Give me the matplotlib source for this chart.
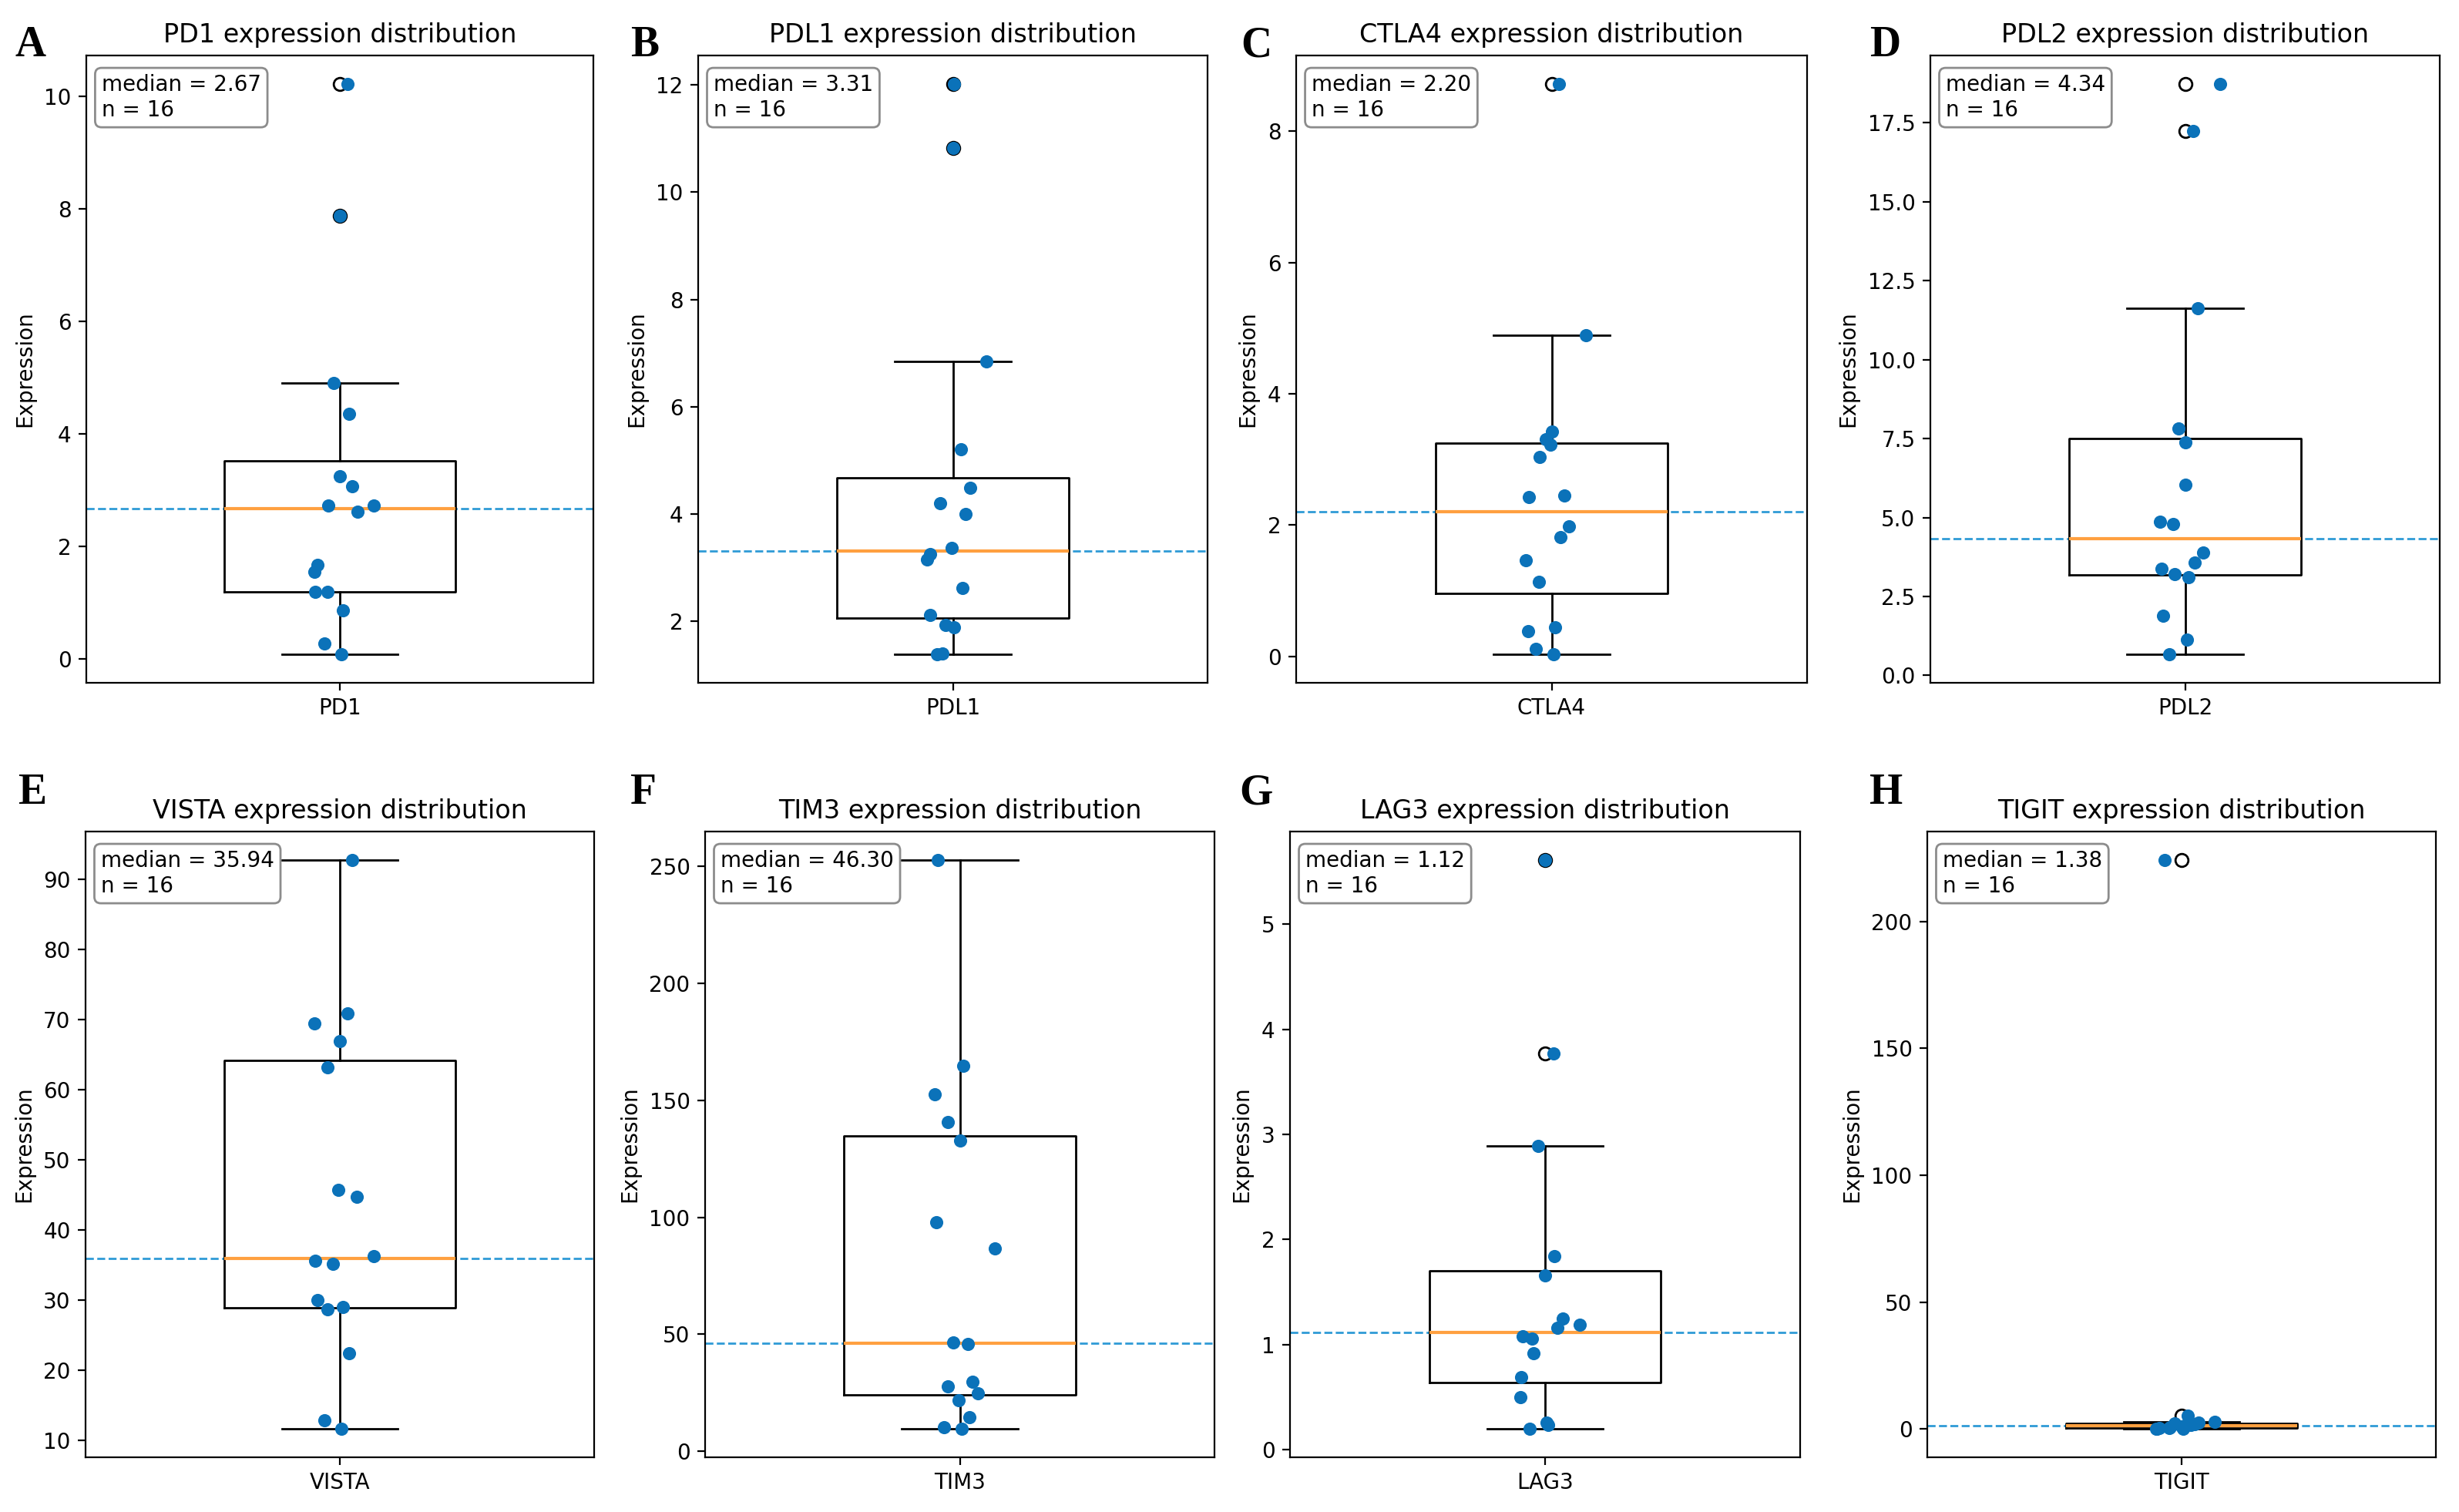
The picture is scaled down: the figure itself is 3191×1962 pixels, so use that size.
import numpy as np
import matplotlib
matplotlib.use("Agg")
import matplotlib.pyplot as plt

genes = ["PD1", "PDL1", "CTLA4", "PDL2", "VISTA", "TIM3", "LAG3", "TIGIT"]
letters = ["A", "B", "C", "D", "E", "F", "G", "H"]

pd1 = [10.22, 7.88, 4.91, 4.35, 3.25, 3.07, 2.72, 2.62, 2.73, 1.67, 1.55, 1.19, 1.19, 0.86, 0.27, 0.08]
pd1_jit = [0.017, 0.0, -0.014, 0.020, 0.0, 0.027, -0.025, 0.038, 0.074, -0.049, -0.055, -0.053, -0.026, 0.007, -0.034, 0.004]

pdl1 = [12.02, 10.82, 6.85, 5.20, 4.49, 4.20, 3.99, 3.37, 3.25, 3.15, 2.61, 2.11, 1.92, 1.88, 1.40, 1.38]
pdl1_jit = [0.002, 0.0, 0.072, 0.017, 0.038, -0.027, 0.027, -0.002, -0.049, -0.055, 0.020, -0.049, -0.015, 0.002, -0.023, -0.034]

ctla4 = [8.72, 4.89, 3.42, 3.31, 3.23, 3.04, 2.42, 2.45, 1.98, 1.82, 1.46, 1.13, 0.44, 0.38, 0.11, 0.03]
ctla4_jit = [0.015, 0.074, 0.0, -0.013, -0.002, -0.025, -0.049, 0.028, 0.038, 0.019, -0.055, -0.027, 0.007, -0.051, -0.034, 0.004]

pdl2 = [18.73, 17.24, 11.64, 7.83, 7.39, 6.03, 4.86, 4.80, 3.88, 3.57, 3.37, 3.21, 3.10, 1.89, 1.13, 0.67]
pdl2_jit = [0.075, 0.018, 0.028, -0.014, 0.0, 0.0, -0.054, -0.025, 0.039, 0.021, -0.051, -0.023, 0.007, -0.048, 0.004, -0.034]

vista = [92.8, 70.85, 69.5, 66.97, 63.2, 45.7, 44.7, 36.26, 35.62, 35.2, 30.0, 29.0, 28.7, 22.4, 12.8, 11.6]
vista_jit = [0.027, 0.017, -0.055, 0.0, -0.027, -0.003, 0.037, 0.074, -0.053, -0.015, -0.049, 0.007, -0.026, 0.020, -0.034, 0.003]

tim3 = [252.7, 164.9, 152.4, 140.8, 132.7, 98.0, 86.7, 46.6, 46.0, 29.6, 27.6, 24.9, 21.8, 14.7, 10.2, 9.6]
tim3_jit = [-0.048, 0.007, -0.054, -0.025, 0.0, -0.051, 0.075, -0.014, 0.017, 0.028, -0.025, 0.039, -0.002, 0.021, -0.034, 0.004]

lag3 = [5.61, 3.77, 2.89, 1.84, 1.66, 1.25, 1.19, 1.16, 1.08, 1.06, 0.92, 0.69, 0.50, 0.26, 0.24, 0.20]
lag3_jit = [0.0, 0.019, -0.015, 0.020, 0.0, 0.038, 0.074, 0.027, -0.049, -0.028, -0.025, -0.051, -0.053, 0.004, 0.006, -0.034]

tigit = [224.3, 5.1, 2.8, 2.4, 2.1, 1.9, 1.7, 1.56, 1.2, 0.9, 0.6, 0.4, 0.3, 0.2, 0.1, 0.05]
tigit_jit = [-0.036, 0.013, 0.072, 0.037, -0.015, 0.028, 0.020, 0.017, 0.007, 0.0, -0.025, -0.027, -0.049, -0.055, 0.004, -0.053]

values = [pd1, pdl1, ctla4, pdl2, vista, tim3, lag3, tigit]
jitters = [pd1_jit, pdl1_jit, ctla4_jit, pdl2_jit, vista_jit, tim3_jit, lag3_jit, tigit_jit]

W, H = 3191, 1962
DPI = 200
fig = plt.figure(figsize=(W / DPI, H / DPI), dpi=DPI)

# axes boxes in pixels: left, right, top, bottom
boxes = [
    (112, 770, 72, 886), (906, 1567, 72, 886), (1682, 2345, 72, 886), (2505, 3166, 72, 886),
    (111, 771, 1079, 1891), (915, 1576, 1079, 1891), (1674, 2336, 1079, 1891), (2501, 3161, 1079, 1891),
]
letter_x = [19, 818, 1610, 2426, 23, 818, 1608, 2426]

point_color = "#0b72b9"
dash_color = "#2f9bd6"
median_color = "#ffa040"

for i, (gene, vals, jit) in enumerate(zip(genes, values, jitters)):
    l, r, t, b = boxes[i]
    ax = fig.add_axes([l / W, 1 - b / H, (r - l) / W, (b - t) / H])
    vals = np.array(vals)
    med = np.median(vals)

    ax.axhline(med, color=dash_color, linestyle="--", linewidth=1.0)
    ax.boxplot([vals], widths=0.5,
               medianprops=dict(color=median_color, linewidth=1.5),
               flierprops=dict(marker="o", markerfacecolor="none", markeredgecolor="black", markersize=6))
    ax.scatter(1 + np.array(jit), vals, s=38, color=point_color, linewidths=0, zorder=3)

    ax.set_xlim(0.45, 1.55)
    ax.set_xticks([1])
    ax.set_xticklabels([gene])
    ax.set_ylabel("Expression")
    ax.set_title(f"{gene} expression distribution")
    ax.text(0.03, 0.97, f"median = {med:.2f}\nn = {len(vals)}", transform=ax.transAxes,
            va="top", ha="left", fontsize=10,
            bbox=dict(boxstyle="round", facecolor="white", edgecolor="gray", alpha=0.9))

    base_y = 73 if i < 4 else 1043
    fig.text(letter_x[i] / W, 1 - base_y / H, letters[i], fontsize=20, fontweight="bold",
             family="Liberation Serif", ha="left", va="baseline")

fig.savefig("out.png", dpi=DPI)
